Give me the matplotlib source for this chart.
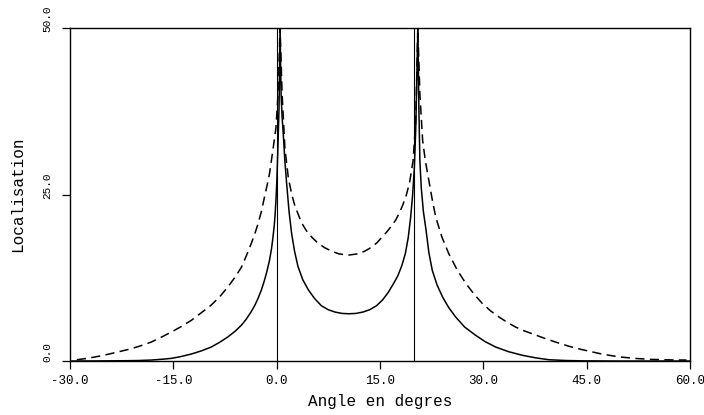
import matplotlib
matplotlib.use("Agg")
import matplotlib.pyplot as plt
import matplotlib.transforms as mtransforms

# values (angle in degrees, localisation)
solid_x = [-30.0, -26.0, -22.0, -20.0, -18.2, -16.5, -15.3, -14.0, -12.4, -11.0,
           -9.5, -8.3, -7.1, -6.0, -5.1, -4.4, -3.7, -3.2, -2.7, -2.2, -1.77,
           -1.4, -1.04, -0.75, -0.55, -0.35, -0.22, -0.08, 0.03, 0.17, 0.35, 0.5,
           0.65, 0.8, 0.97, 1.2, 1.45, 1.8, 2.17, 2.6, 3.1, 3.8, 4.6, 5.5, 6.5,
           7.5, 8.5, 9.5, 10.5, 11.5, 12.5, 13.5, 14.5, 15.4, 16.2, 16.9, 17.6,
           18.2, 18.7, 19.1, 19.45, 19.75, 20.0, 20.2, 20.5,
           20.65, 20.8, 21.0, 21.3, 21.7, 22.1, 22.6, 23.3, 24.1, 25.0, 26.0,
           27.3, 28.9, 30.3, 31.8, 33.7, 35.7, 37.5, 39.5, 42.0, 44.4, 50.0,
           55.0, 60.0]
solid_y = [0.0, 0.02, 0.05, 0.08, 0.15, 0.28, 0.4, 0.65, 1.05, 1.5,
           2.1, 2.8, 3.6, 4.5, 5.4, 6.3, 7.4, 8.3, 9.4, 10.7, 12.1,
           13.5, 15.1, 16.8, 18.4, 20.3, 22.0, 24.5, 27.0, 31.5, 38.0, 50.0,
           40.0, 36.5, 34.0, 30.0, 26.7, 22.5, 19.2, 16.5, 14.2, 12.2, 10.7, 9.4, 8.3,
           7.7, 7.35, 7.15, 7.1, 7.15, 7.35, 7.7, 8.3, 9.2, 10.3, 11.5, 12.8,
           14.4, 16.2, 18.5, 21.5, 25.0, 29.2, 35.0, 50.0,
           38.0, 30.0, 26.0, 22.5, 19.6, 16.3, 13.6, 11.4, 9.6, 8.0, 6.6,
           5.1, 3.86, 2.9, 2.1, 1.4, 0.86, 0.5, 0.2, 0.08, 0.03, 0.0,
           0.0, 0.0]

dashed_x = [-29.0, -27.5, -25.4, -23.5, -21.5, -20.0, -18.2, -16.8, -15.3, -13.9,
            -12.4, -11.0, -9.5, -8.3, -7.1, -6.1, -5.1, -4.4, -3.7, -3.2, -2.7,
            -2.2, -1.77, -1.4, -1.04, -0.55, -0.1, 0.2, 0.5,
            0.8, 1.2, 1.7, 2.2, 2.65, 3.6, 4.3, 5.1, 6.0, 7.0, 8.0, 9.0, 10.4,
            11.8, 12.8, 13.8, 14.6, 15.3, 16.0, 16.7, 17.3, 17.8, 18.3, 18.8,
            19.3, 19.8, 20.2, 20.5,
            20.8, 21.2, 21.6, 22.1, 22.6, 23.1, 24.0, 25.0, 26.2, 27.5, 28.7,
            29.9, 31.1, 32.3, 33.5, 34.7, 35.9, 37.1, 38.8, 40.5, 42.5, 44.4,
            47.0, 49.5, 52.0, 54.3, 57.0, 59.5]
dashed_y = [0.2, 0.4, 0.8, 1.25, 1.75, 2.2, 2.85, 3.55, 4.35, 5.15,
            6.1, 7.2, 8.4, 9.6, 11.1, 12.5, 14.1, 15.8, 17.6, 19.0, 20.6,
            22.5, 24.6, 26.3, 28.1, 31.6, 35.0, 40.0, 50.0,
            40.0, 32.0, 27.5, 25.0, 23.3, 20.8, 19.6, 18.6, 17.7, 17.0, 16.5, 16.1, 15.9,
            16.1, 16.5, 17.1, 17.8, 18.6, 19.4, 20.3, 21.2, 22.2, 23.4, 24.8,
            26.8, 30.0, 36.0, 50.0,
            40.0, 33.1, 30.0, 27.1, 24.2, 21.6, 18.6, 16.1, 13.7, 11.6, 10.0,
            8.6, 7.5, 6.6, 5.8, 5.1, 4.55, 4.1, 3.45, 2.85, 2.2, 1.7,
            1.1, 0.65, 0.4, 0.25, 0.18, 0.15]

source_angles = [0.0, 20.0]
x_ticks = [-30, -15, 0, 15, 30, 45, 60]
y_ticks = [0, 25, 50]

plt.rcParams["font.family"] = ["Liberation Mono", "DejaVu Sans Mono"]

fig = plt.figure(figsize=(7.04, 4.15), dpi=100)
ax = fig.add_axes([0.0994, 0.130, 0.8806, 0.8025])

ax.plot(solid_x, solid_y, color="black", lw=1.1, solid_joinstyle="round")
ax.plot(dashed_x, dashed_y, color="black", lw=1.1, dashes=(6, 3.5))
for a in source_angles:
    ax.axvline(a, color="black", lw=0.8)

ax.set_xlim(-30, 60)
ax.set_ylim(0, 50)

ax.set_xticks(x_ticks)
ax.set_xticklabels([f"{t:.1f}" for t in x_ticks], fontsize=9)
ax.set_yticks(y_ticks)
ax.set_yticklabels([f"{t:.1f}" for t in y_ticks], fontsize=8, rotation=90, va="center")

ax.tick_params(axis="both", direction="out", length=6, width=0.9, color="black")
ax.tick_params(axis="x", pad=4)
ax.tick_params(axis="y", pad=7)

# y labels sit a little above their ticks in the original
offset = mtransforms.ScaledTranslation(0, 6.5 / 72, fig.dpi_scale_trans)
for lab in ax.get_yticklabels():
    lab.set_transform(lab.get_transform() + offset)

for s in ax.spines.values():
    s.set_linewidth(1.0)

ax.set_xlabel("Angle en degres", fontsize=11.5, labelpad=5)
ax.set_ylabel("Localisation", fontsize=11.5, labelpad=12)

fig.savefig("out.png", dpi=100)
